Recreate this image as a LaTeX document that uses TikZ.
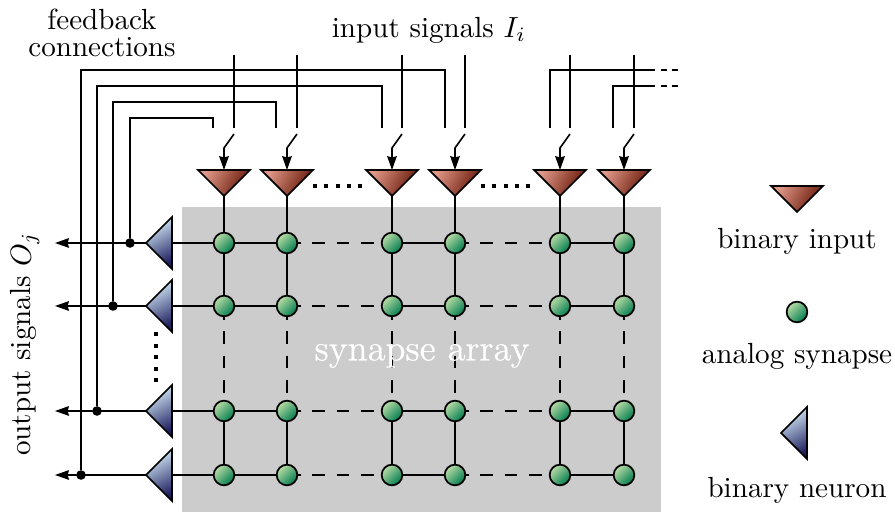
\documentclass[tikz,border=0pt]{standalone}
\usepackage{amsmath}
\usepackage{fontspec}
\usetikzlibrary{shapes.geometric,arrows.meta}
\newfontfamily\arrayfont[FakeBold=0.6]{Latin Modern Roman}
\definecolor{inlight}{HTML}{E09888}
\definecolor{inmid}{HTML}{9C3C2C}
\definecolor{indark}{HTML}{641404}
\definecolor{synlight}{HTML}{B8DCA4}
\definecolor{synmid}{HTML}{70B078}
\definecolor{syndark}{HTML}{007C50}
\definecolor{neurlight}{HTML}{D8F0FC}
\definecolor{neurmid}{HTML}{94A8CC}
\definecolor{neurdark}{HTML}{202060}
\tikzset{
  wire/.style={line width=0.55pt},
  dashwire/.style={wire, dash pattern=on 4.4pt off 3.9pt, dash phase=3.1pt},
  enddash/.style={wire, dash pattern=on 2pt off 1.75pt},
  inputtri/.style={draw=black, line width=0.6pt, isosceles triangle, isosceles triangle apex angle=90, isosceles triangle stretches, minimum width=17.8pt, minimum height=8.9pt, inner sep=0pt, outer sep=0pt, shape border rotate=-90, anchor=apex, top color=inlight, middle color=inmid, bottom color=indark, shading angle=62},
  neurontri/.style={draw=black, line width=0.6pt, isosceles triangle, isosceles triangle apex angle=90, isosceles triangle stretches, minimum width=17.8pt, minimum height=8.9pt, inner sep=0pt, outer sep=0pt, shape border rotate=180, anchor=apex, top color=neurlight, middle color=neurmid, bottom color=neurdark, shading angle=28},
  synapse/.style={circle, draw=black, line width=0.6pt, minimum size=7.1pt, inner sep=0pt, outer sep=0pt, top color=synlight, middle color=synmid, bottom color=syndark, shading angle=45},
  junction/.style={circle, fill=black, minimum size=3.3pt, inner sep=0pt, outer sep=0pt},
  dotmark/.style={fill=black, minimum size=1.25pt, inner sep=0pt, outer sep=0pt},
  arrowtip/.style={-{Stealth[length=4.8pt,width=3.3pt,inset=0.5pt]}}
}
\begin{document}
\begin{tikzpicture}[x=0.3436pt,y=-0.3436pt]
\useasboundingbox (0,0) rectangle (895,512);
\fill[black!20] (182,207) rectangle (661,512);

\foreach \col/\x in {1/224,2/287,3/392,4/455,5/560,6/624}{
  \foreach \row/\y in {1/243,2/306,3/411,4/475}{
    \node[synapse] (s\row\col) at (\x,\y) {};
  }
  \node[inputtri] (in\col) at (\x,196) {};
  \draw[wire] (in\col.apex) -- (s1\col);
  \draw[wire] (s1\col) -- (s2\col);
  \draw[dashwire] (s2\col) -- (s3\col);
  \draw[wire] (s3\col) -- (s4\col);
  \coordinate (sw\col) at (\x+10,134);
  \coordinate (swb\col) at (\x,148);
  \coordinate (top\col) at (\x+10,55);
  \coordinate (stop\col) at (\x+10,128);
  \draw[wire] (top\col) -- (stop\col);
  \draw[wire, arrowtip] (sw\col) -- (swb\col) -- (in\col.lower side);
}
\foreach \row/\y/\o in {1/243/130,2/306/113,3/411/97,4/475/81}{
  \node[neurontri] (n\row) at (146,\y) {};
  \coordinate (out\row) at (55,\y);
  \node[junction] (j\row) at (\o,\y) {};
  \draw[wire] (n\row.lower side) -- (s\row1);
  \draw[wire, arrowtip] (n\row.apex) -- (out\row);
  \draw[wire] (s\row1) -- (s\row2);
  \draw[dashwire] (s\row2) -- (s\row3);
  \draw[wire] (s\row3) -- (s\row4);
  \draw[dashwire] (s\row4) -- (s\row5);
  \draw[wire] (s\row5) -- (s\row6);
}

\coordinate (fa) at (213,128);
\coordinate (fb) at (276,128);
\coordinate (fc) at (382,128);
\coordinate (fd) at (445,128);
\coordinate (fe) at (550,128);
\coordinate (ff) at (613,128);
\coordinate (ee) at (655,70);
\coordinate (ef) at (655,86);
\coordinate (ds) at (661,70);
\coordinate (dt) at (661,86);
\coordinate (eee) at (678,70);
\coordinate (eef) at (678,86);
\draw[wire] (j1) |- (fa |- 0,118) -- (fa);
\draw[wire] (j2) |- (fb |- 0,102) -- (fb);
\draw[wire] (j3) |- (fc |- 0,86) -- (fc);
\draw[wire] (j4) |- (fd |- 0,70) -- (fd);
\draw[wire] (fe) |- (ee);
\draw[wire] (ff) |- (ef);
\draw[enddash] (ds) -- (eee);
\draw[enddash] (dt) -- (eef);

\foreach \x [count=\i] in {315,326,338,349,360}{
  \node[dotmark] (da\i) at (\x,186) {};
}
\foreach \x [count=\i] in {483,494,506,517,528}{
  \node[dotmark] (db\i) at (\x,186) {};
}
\foreach \y [count=\i] in {334,346,357,369,380}{
  \node[dotmark] (dc\i) at (156,\y) {};
}

\node[text=white, font=\fontsize{12.6}{15}\arrayfont] (arraylabel) at (422,356) {synapse array};
\node[align=center] (fblabel) at (102,33) {feedback\\[-2.7pt]connections};
\node (inlabel) at (429,30) {input signals $I_i$};
\node[rotate=90] (outlabel) at (25,344) {output signals $O_j$};

\node[inputtri] (leginput) at (797,212) {};
\node (leginputlabel) at (797,241) {binary input};
\node[synapse] (legsyn) at (797,312) {};
\node (legsynlabel) at (797,356) {analog synapse};
\node[neurontri] (legneuron) at (781,433) {};
\node (legneuronlabel) at (797,490) {binary neuron};
\end{tikzpicture}
\end{document}
